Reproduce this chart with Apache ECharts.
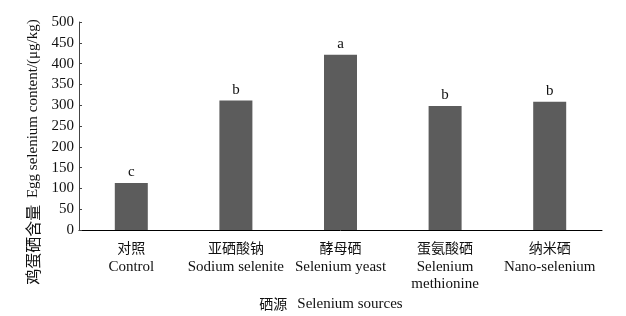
<!DOCTYPE html>
<html><head><meta charset="utf-8">
<script src="https://cdn.jsdelivr.net/npm/echarts@6/dist/echarts.min.js"></script>
<style>html,body{margin:0;padding:0;background:#fff}#c{width:626px;height:316px}</style>
</head><body><div id="c"></div>
<script>
const categoriesCn = ['对照', '亚硒酸钠', '酵母硒', '蛋氨酸硒', '纳米硒'];
const categoriesEn = ['Control', 'Sodium selenite', 'Selenium yeast', 'Selenium\nmethionine', 'Nano-selenium'];
const values = [113, 311, 421, 298, 308];
const letters = ['c', 'b', 'a', 'b', 'b'];
const yTicks = [0, 50, 100, 150, 200, 250, 300, 350, 400, 450, 500];

const serif = '"Liberation Serif", "DejaVu Serif", serif';
const cjk = '"Noto Sans CJK SC", sans-serif';
const chart = echarts.init(document.getElementById('c'));
chart.setOption({
  animation: false,
  backgroundColor: '#fff',
  grid: {left: 79, right: 24, top: 22, bottom: 86},
  title: {
    text: '{cn|硒源}  {en|Selenium sources}',
    left: 326, top: 290, textAlign: 'center',
    textStyle: {fontWeight: 'normal', rich: {
      cn: {fontFamily: cjk, fontSize: 14, color: '#111', fontWeight: 'normal'},
      en: {fontFamily: serif, fontSize: 15, color: '#111', fontWeight: 'normal'}
    }}
  },
  graphic: [{
    type: 'text', x: 33, y: 152, rotation: Math.PI / 2,
    style: {
      text: '{cn|鸡蛋硒含量}  {en|Egg selenium content/(μg/kg)}',
      align: 'center', verticalAlign: 'middle',
      rich: {
        cn: {fontFamily: cjk, fontSize: 16, fill: '#111'},
        en: {fontFamily: serif, fontSize: 15, fill: '#111'}
      }
    }
  }],
  xAxis: {
    type: 'category',
    data: categoriesCn.map((c, i) => c + '\n' + categoriesEn[i]),
    axisLine: {lineStyle: {color: '#000', width: 1}},
    axisTick: {show: false},
    axisLabel: {
      margin: 7,
      interval: 0,
      formatter: function (v, i) {
        const en = categoriesEn[i].split('\n').map(s => '{en|' + s + '}').join('\n');
        return '{cn|' + categoriesCn[i] + '}\n' + en;
      },
      rich: {
        cn: {fontFamily: cjk, fontSize: 14, color: '#111', lineHeight: 22},
        en: {fontFamily: serif, fontSize: 15, color: '#111', lineHeight: 17}
      }
    }
  },
  yAxis: {
    type: 'value', min: 0, max: 500, interval: 50,
    splitLine: {show: false},
    axisLine: {show: true, lineStyle: {color: '#444', width: 1}},
    axisTick: {show: true, inside: true, length: 3, lineStyle: {color: '#444'}},
    axisLabel: {
      margin: 5,
      fontFamily: serif, fontSize: 15, color: '#111',
      formatter: v => yTicks.includes(v) ? String(v) : ''
    }
  },
  series: [{
    type: 'bar',
    data: values,
    barWidth: 33,
    itemStyle: {color: '#5c5c5c'},
    label: {
      show: true, position: 'top', distance: 3,
      fontFamily: serif, fontSize: 15, color: '#111',
      formatter: p => letters[p.dataIndex]
    }
  }]
});
</script></body></html>
